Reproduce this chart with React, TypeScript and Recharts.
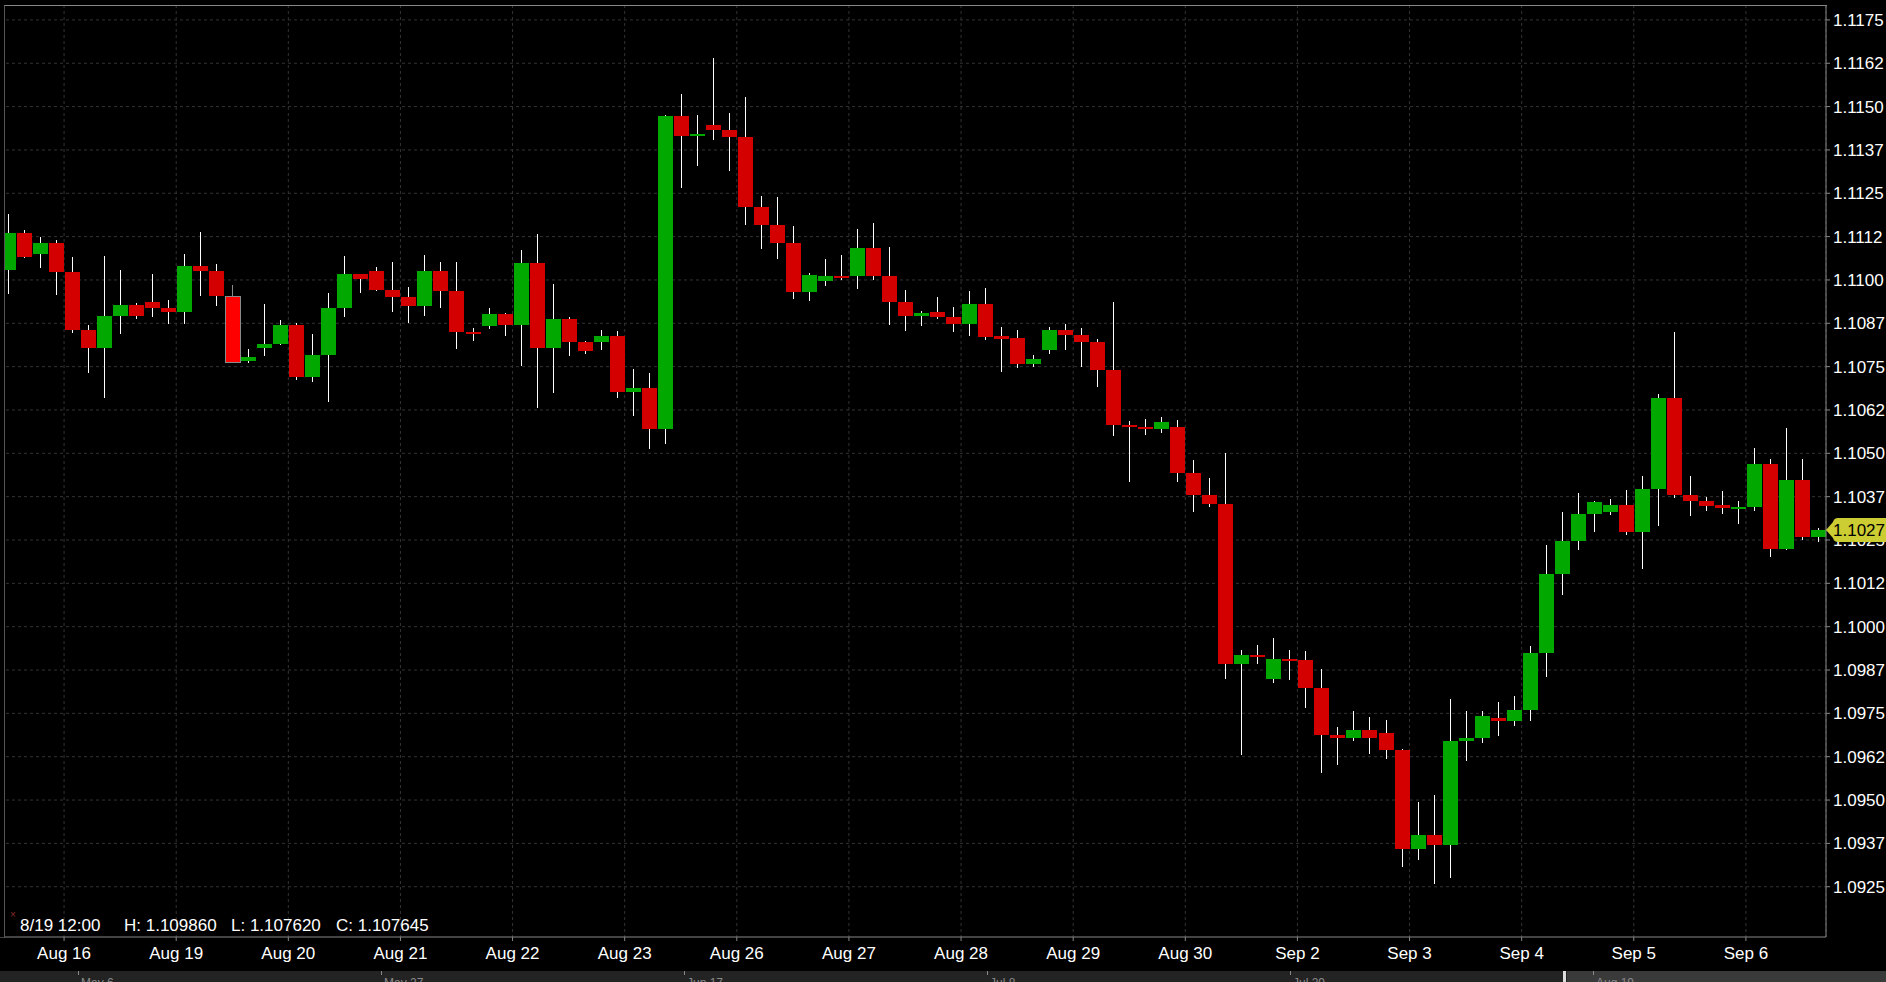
import { ComposedChart, Bar, XAxis, YAxis, CartesianGrid } from 'recharts'

// EUR/USD candles
const openP = [
  1.1103, 1.11135, 1.11074, 1.11106, 1.11024, 1.10856, 1.10803, 1.10896, 1.10928, 1.10937,
  1.1092, 1.10908, 1.11039, 1.11027, 1.10954, 1.10765, 1.10803, 1.10815, 1.1087, 1.10719,
  1.10783, 1.1092, 1.11016, 1.11027, 1.10972, 1.10952, 1.10926, 1.11027, 1.10969, 1.10851,
  1.10868, 1.10903, 1.10871, 1.1105, 1.10805, 1.10886, 1.10822, 1.1082, 1.10837, 1.10678,
  1.10687, 1.10569, 1.11473, 1.11416, 1.11447, 1.11433, 1.11413, 1.11211, 1.11159, 1.11108,
  1.10966, 1.10998, 1.11012, 1.11012, 1.11091, 1.11012, 1.10937, 1.10897, 1.10908, 1.10894,
  1.10874, 1.10932, 1.10837, 1.10834, 1.10759, 1.10799, 1.10857, 1.10842, 1.1082, 1.10741,
  1.10583, 1.10577, 1.1057, 1.10576, 1.10444, 1.10379, 1.10355, 1.09892, 1.09917, 1.09848,
  1.09906, 1.09903, 1.09822, 1.09687, 1.09678, 1.09701, 1.09693, 1.09644, 1.09359, 1.09399,
  1.0937, 1.0967, 1.09678, 1.09738, 1.09729, 1.09761, 1.09925, 1.10152, 1.10248, 1.10325,
  1.10331, 1.10351, 1.10273, 1.10397, 1.10659, 1.1038, 1.10363, 1.10351, 1.1034, 1.10345,
  1.10469, 1.10224, 1.10423, 1.10259,
]
const highP = [
  1.1119, 1.11143, 1.11123, 1.11114, 1.11065, 1.1087, 1.11068, 1.1103, 1.10934, 1.11016,
  1.10943, 1.11074, 1.11138, 1.11047, 1.10986, 1.108, 1.10931, 1.10885, 1.10876, 1.10844,
  1.10963, 1.11068, 1.11018, 1.11036, 1.11053, 1.10981, 1.11073, 1.11053, 1.11053, 1.1086,
  1.1092, 1.10906, 1.11087, 1.11133, 1.10989, 1.10894, 1.10825, 1.10857, 1.10854, 1.10742,
  1.10733, 1.11476, 1.11537, 1.11476, 1.1164, 1.11482, 1.11528, 1.11243, 1.1124, 1.11157,
  1.11019, 1.11059, 1.11073, 1.11148, 1.11163, 1.11096, 1.10972, 1.10911, 1.10952, 1.10923,
  1.10969, 1.10978, 1.10863, 1.10857, 1.10783, 1.10865, 1.10874, 1.1086, 1.10831, 1.10935,
  1.10594, 1.106, 1.10605, 1.10597, 1.1048, 1.1043, 1.105, 1.09932, 1.09946, 1.09966,
  1.09932, 1.09929, 1.09877, 1.0971, 1.09756, 1.09739, 1.0973, 1.09647, 1.09494, 1.09514,
  1.09791, 1.09756, 1.09756, 1.09784, 1.09801, 1.09945, 1.10236, 1.10331, 1.10386, 1.10362,
  1.10368, 1.10394, 1.10435, 1.10671, 1.10849, 1.10435, 1.10374, 1.10392, 1.10363, 1.10515,
  1.10484, 1.10573, 1.10484, 1.10285,
]
const lowP = [
  1.1096, 1.11062, 1.11033, 1.10954, 1.10847, 1.10731, 1.10658, 1.10844, 1.10888, 1.10891,
  1.10873, 1.10873, 1.10952, 1.10925, 1.10762, 1.1076, 1.1078, 1.10812, 1.10713, 1.10707,
  1.10649, 1.10893, 1.10963, 1.10966, 1.10908, 1.10877, 1.10897, 1.1092, 1.10802, 1.10822,
  1.1086, 1.1084, 1.10753, 1.10632, 1.10676, 1.10782, 1.10788, 1.10799, 1.10661, 1.10606,
  1.10514, 1.10526, 1.11266, 1.11329, 1.11404, 1.11315, 1.11159, 1.1109, 1.11062, 1.10946,
  1.10937, 1.1098, 1.11001, 1.10975, 1.10998, 1.10871, 1.10854, 1.10868, 1.10889, 1.10851,
  1.10839, 1.10828, 1.10733, 1.10748, 1.10748, 1.10788, 1.10799, 1.10748, 1.10692, 1.10548,
  1.10418, 1.10555, 1.1056, 1.10419, 1.10329, 1.10347, 1.09848, 1.09629, 1.09892, 1.09837,
  1.09845, 1.09765, 1.09578, 1.09601, 1.0967, 1.09632, 1.09618, 1.09307, 1.09327, 1.09258,
  1.09275, 1.09612, 1.09664, 1.09686, 1.09715, 1.09729, 1.09856, 1.10092, 1.10222, 1.10273,
  1.10322, 1.10265, 1.10167, 1.10291, 1.10371, 1.1032, 1.10334, 1.10325, 1.10296, 1.10334,
  1.10201, 1.10222, 1.1025, 1.10245,
]
const closeP = [
  1.11135, 1.11065, 1.11106, 1.11024, 1.10856, 1.10803, 1.10896, 1.10928, 1.10896, 1.1092,
  1.10908, 1.11039, 1.11027, 1.10954, 1.107645, 1.10777, 1.10815, 1.1087, 1.10719, 1.10783,
  1.1092, 1.11016, 1.11004, 1.10972, 1.10952, 1.10926, 1.11027, 1.10969, 1.10851, 1.10845,
  1.10903, 1.10871, 1.1105, 1.10805, 1.10886, 1.10822, 1.10796, 1.10837, 1.10678, 1.10687,
  1.10569, 1.11473, 1.11416, 1.11421, 1.11433, 1.11413, 1.11211, 1.11159, 1.11108, 1.10966,
  1.11015, 1.11012, 1.11007, 1.11091, 1.11012, 1.10937, 1.10897, 1.10906, 1.10894, 1.10874,
  1.10932, 1.10836, 1.10831, 1.10759, 1.10773, 1.10857, 1.10842, 1.1082, 1.10741, 1.10583,
  1.10577, 1.1057, 1.1059, 1.10444, 1.10379, 1.10355, 1.09892, 1.09917, 1.09912, 1.09906,
  1.099, 1.09822, 1.09687, 1.09678, 1.09701, 1.09678, 1.09644, 1.09359, 1.09399, 1.0937,
  1.0967, 1.09678, 1.09742, 1.09729, 1.09761, 1.09925, 1.10152, 1.10248, 1.10325, 1.1036,
  1.10351, 1.10273, 1.10397, 1.10659, 1.1038, 1.10363, 1.10348, 1.10343, 1.10345, 1.10469,
  1.10224, 1.10423, 1.10259, 1.10279,
]

const dayLabels = ['Aug 16', 'Aug 19', 'Aug 20', 'Aug 21', 'Aug 22', 'Aug 23', 'Aug 26', 'Aug 27',
  'Aug 28', 'Aug 29', 'Aug 30', 'Sep 2', 'Sep 3', 'Sep 4', 'Sep 5', 'Sep 6']
const candlesPerDay = 7
const firstDayBoundary = 3.5

const yTicks = [1.0925, 1.09375, 1.095, 1.09625, 1.0975, 1.09875, 1.1, 1.10125, 1.1025, 1.10375,
  1.105, 1.10625, 1.1075, 1.10875, 1.11, 1.11125, 1.1125, 1.11375, 1.115, 1.11625, 1.1175]
const yTickLabels = ['1.0925', '1.0937', '1.0950', '1.0962', '1.0975', '1.0987', '1.1000', '1.1012',
  '1.1025', '1.1037', '1.1050', '1.1062', '1.1075', '1.1087', '1.1100', '1.1112', '1.1125', '1.1137',
  '1.1150', '1.1162', '1.1175']

const overviewLabels = ['May 6', 'May 27', 'Jun 17', 'Jul 8', 'Jul 29', 'Aug 19']

const hoverIndex = 14
const hoverTime = '8/19 12:00'

const FONT = '"Liberation Sans", Arial, sans-serif'
const UP = '#00a800'
const DOWN = '#d40000'

const rows = openP.map((o, i) => ({
  idx: i,
  open: o,
  high: highP[i],
  low: lowP[i],
  close: closeP[i],
  range: [lowP[i], highP[i]],
}))

const dayTicks = dayLabels.map((_, k) => firstDayBoundary + k * candlesPerDay)
const lastClose = closeP[closeP.length - 1]
// the live price tag goes last so it is drawn over the regular labels
const axisTicks = [...yTicks, lastClose]

const Candle = (props: any) => {
  const { x, y, width, height, payload, index } = props
  if (!payload || !height) return null
  const { open, close, high, low } = payload
  const ratio = height / (high - low)
  const top = Math.round(y + (high - Math.max(open, close)) * ratio)
  const bot = Math.round(y + (high - Math.min(open, close)) * ratio)
  const bx = Math.round(x)
  const cx = Math.floor(x + width / 2)
  const hov = index === hoverIndex
  const fill = hov ? '#ff0000' : close >= open ? UP : DOWN
  return (
    <g shapeRendering="crispEdges">
      <rect x={cx} y={Math.round(y)} width={1} height={Math.max(1, Math.round(height))} fill={hov ? '#888' : '#fff'} />
      <rect x={bx} y={top} width={15} height={Math.max(1, bot - top)} fill={fill}
        stroke={hov ? '#8a8a8a' : 'none'} strokeWidth={hov ? 1 : 0} />
    </g>
  )
}

const PriceTick = (props: any) => {
  const { x, y, payload, index } = props
  if (index === yTicks.length) {
    const ax = x - 7
    const ty = Math.round(y)
    return (
      <g>
        <path d={`M${ax},${ty} L${ax + 7},${ty - 8} Q${ax + 8},${ty - 12} ${ax + 12},${ty - 12} H${ax + 64} V${ty + 12} H${ax + 12} Q${ax + 8},${ty + 12} ${ax + 7},${ty + 8} Z`} fill="#cccc33" />
        <text x={x} y={ty} dy="0.36em" fontSize={17} fontFamily={FONT} fill="#000">
          {(Math.floor(payload.value * 10000) / 10000).toFixed(4)}
        </text>
      </g>
    )
  }
  return (
    <text x={x} y={y} dy="0.355em" fontSize={17} fontFamily={FONT} fill="#fff" textAnchor="start">
      {yTickLabels[index]}
    </text>
  )
}

export default function App() {
  return (
    <div style={{ position: 'absolute', left: 0, top: 0, width: 1886, height: 982, background: '#000', overflow: 'hidden', fontFamily: FONT }}>
      <style>{`body{margin:0;background:#000}`}</style>
      <ComposedChart width={1886} height={982} data={rows} margin={{ top: 5, right: 0, left: 0, bottom: 0 }}>
        <CartesianGrid xAxisId="t" stroke="#333" strokeDasharray="3 3" horizontalValues={yTicks} />
        <XAxis xAxisId="c" dataKey="idx" type="category" hide orientation="top" height={0} />
        <XAxis xAxisId="t" dataKey="idx" type="number" domain={[-0.5, 113.5]} allowDataOverflow
          ticks={dayTicks} interval={0} height={45}
          tickFormatter={(v: number) => dayLabels[Math.round((v - firstDayBoundary) / candlesPerDay)] ?? ''}
          tick={{ fill: '#fff', fontSize: 17, fontFamily: FONT }}
          axisLine={{ stroke: '#888' }} tickLine={{ stroke: '#888' }} tickSize={4} tickMargin={6} />
        <YAxis orientation="right" width={60} domain={[1.09105, 1.11793]} allowDataOverflow
          ticks={axisTicks} interval={0} tick={<PriceTick />}
          axisLine={{ stroke: '#888' }} tickLine={{ stroke: '#888' }} tickSize={4} tickMargin={3} />
        <Bar xAxisId="c" dataKey="range" barSize={15} isAnimationActive={false} shape={Candle} />
      </ComposedChart>

      {/* frame: left/top border, strip left of it */}
      <div style={{ position: 'absolute', left: 0, top: 5, width: 4, height: 932, background: '#000' }} />
      <div style={{ position: 'absolute', left: 4, top: 5, width: 1822, height: 932, borderLeft: '1px solid #555', borderTop: '1px solid #888', pointerEvents: 'none' }} />

      {/* hover info */}
      <div style={{ position: 'absolute', left: 10, top: 909, fontSize: 10, color: '#8b2b2b' }}>×</div>
      <div style={{ position: 'absolute', left: 0, top: 916, height: 20, lineHeight: '20px', fontSize: 17, color: '#fff', whiteSpace: 'nowrap' }}>
        <span style={{ position: 'absolute', left: 20 }}>{hoverTime}</span>
        <span style={{ position: 'absolute', left: 124 }}>H: {highP[hoverIndex].toFixed(6)}</span>
        <span style={{ position: 'absolute', left: 231 }}>L: {lowP[hoverIndex].toFixed(6)}</span>
        <span style={{ position: 'absolute', left: 336 }}>C: {closeP[hoverIndex].toFixed(6)}</span>
      </div>

      {/* overview strip */}
      <div style={{ position: 'absolute', left: 0, top: 971, width: 1886, height: 11, background: '#232323', overflow: 'hidden' }}>
        <div style={{ position: 'absolute', left: 1567, top: 0, width: 319, height: 11, background: '#3a3a3a' }} />
        <div style={{ position: 'absolute', left: 1563, top: 0, width: 3, height: 11, background: '#ddd' }} />
        {overviewLabels.map((l, k) => (
          <div key={l} style={{ position: 'absolute', left: 78 + k * 303, top: 0 }}>
            <div style={{ position: 'absolute', left: 0, top: 0, width: 1, height: 4, background: '#888' }} />
            <div style={{ position: 'absolute', left: 3, top: 5, fontSize: 12, color: '#888', whiteSpace: 'nowrap' }}>{l}</div>
          </div>
        ))}
      </div>
    </div>
  )
}
